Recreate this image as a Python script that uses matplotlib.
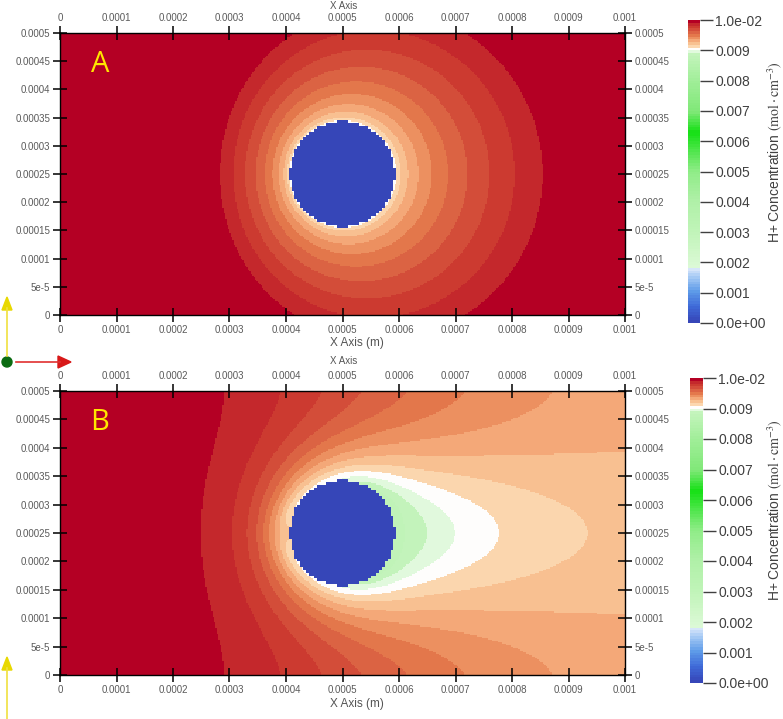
import numpy as np
import matplotlib
matplotlib.use('Agg')
import matplotlib.pyplot as plt
from matplotlib.colors import LinearSegmentedColormap
from matplotlib.patches import Polygon, Circle

plt.rcParams['font.family'] = ['Liberation Sans', 'DejaVu Sans']
plt.rcParams['mathtext.fontset'] = 'stix'

# domain and particle (m)
W, H = 0.001, 0.0005
xc, yc, R = 0.0005, 0.00025, 0.000093

x_ticks = [0, 0.0001, 0.0002, 0.0003, 0.0004, 0.0005, 0.0006, 0.0007, 0.0008, 0.0009, 0.001]
x_labels = ['0', '0.0001', '0.0002', '0.0003', '0.0004', '0.0005', '0.0006', '0.0007',
            '0.0008', '0.0009', '0.001']
y_ticks = [0, 5e-5, 0.0001, 0.00015, 0.0002, 0.00025, 0.0003, 0.00035, 0.0004, 0.00045, 0.0005]
y_labels = ['0', '5e-5', '0.0001', '0.00015', '0.0002', '0.00025', '0.0003', '0.00035',
            '0.0004', '0.00045', '0.0005']
cb_ticks = [0, 0.001, 0.002, 0.003, 0.004, 0.005, 0.006, 0.007, 0.008, 0.009, 0.01]
cb_labels = ['0.0e+00', '0.001', '0.002', '0.003', '0.004', '0.005', '0.006', '0.007',
             '0.008', '0.009', '1.0e-02']

# colour table (fraction of 0.01)
cmap_pos = [0.0, 0.05, 0.10, 0.15, 0.178, 0.182, 0.30, 0.40, 0.50, 0.63, 0.70, 0.80,
            0.89, 0.908, 0.917, 0.927, 0.936, 0.945, 0.954, 0.963, 0.972, 0.982, 0.991, 1.0]
cmap_col = ['#3646b8', '#3f6ad8', '#5d9ae8', '#a8cbf5', '#dde9fb', '#dcf9d6', '#c0f4b8',
            '#b0f0a8', '#90ec88', '#14e014', '#80e878', '#a0ee98', '#c4f4bc', '#ffffff',
            '#fcd8b0', '#f8c090', '#f4a878', '#ec9060', '#e4784c', '#dc6444', '#d44e3a',
            '#cc3a30', '#c4282c', '#b40024']
n_colors = 110
dc = 0.01 / n_colors

# panel A: rim depletion and reach
a_rim_A = 11.0 * dc
G_A = 0.000233
e_A = 0.357

# panel B: flow past the particle, depletion released along its surface
# (inverse length, downstream level, weight exponent along surface, image count)
src_s = [5000.0, 15000.0, 20000.0]
src_level = [5.2 * dc, 1.55 * dc, 1.4 * dc]
src_pow = [-0.5, 1.5, -1.0]
src_eps = [0.03, 0.03, 0.01]
src_img = [2, 1, 1]
n_src = 60

cmap = LinearSegmentedColormap.from_list('hplus', list(zip(cmap_pos, cmap_col)), N=n_colors)

nx, ny = 400, 200
x = (np.arange(nx) + 0.5) * W / nx
y = (np.arange(ny) + 0.5) * H / ny
X, Y = np.meshgrid(x, y)
dx = X - xc
dy = Y - yc
r = np.maximum(np.hypot(dx, dy), R)
cos = dx / r
gap = np.clip(np.hypot(dx, dy) - R, 0, None)

# coarse cells for the particle edge
cell = 5e-6
Xs = (np.floor(X / cell) + 0.5) * cell
Ys = (np.floor(Y / cell) + 0.5) * cell
inside = np.hypot(Xs - xc, Ys - yc) < R

# A
d_A = gap / (1 + e_A * cos)
cA = 0.01 - a_rim_A * np.clip(1 - np.sqrt(d_A / G_A), 0, None)


def k0e(z):
    # exp(z) * K0(z), polynomial fits
    out = np.empty_like(z)
    sm = z <= 2
    zs = z[sm]
    t2 = (zs / 2) ** 2
    u2 = (zs / 3.75) ** 2
    i0 = 1 + u2 * (3.5156229 + u2 * (3.0899424 + u2 * (1.2067492 + u2 * (0.2659732 + u2 * (0.0360768 + u2 * 0.0045813)))))
    k = -np.log(zs / 2) * i0 + (-0.57721566 + t2 * (0.42278420 + t2 * (0.23069756 + t2 * (0.03488590 + t2 * (0.00262698 + t2 * (0.00010750 + t2 * 0.0000074))))))
    out[sm] = k * np.exp(zs)
    zl = z[~sm]
    v = 2 / zl
    out[~sm] = (1.25331414 + v * (-0.07832358 + v * (0.02189568 + v * (-0.01062446 + v * (0.00587872 + v * (-0.00251540 + v * 0.00053208)))))) / np.sqrt(zl)
    return out


# potential-flow coordinates around the particle
phi = dx * (1 + R ** 2 / r ** 2)
psi = dy * (1 - R ** 2 / r ** 2)
phi_src = np.linspace(-2 * R, 2 * R, n_src)
xi = (phi_src + 2 * R) / (4 * R)
soft = 4 * R / n_src
depl = np.zeros_like(X)
for s, level, p, eps, n_img in zip(src_s, src_level, src_pow, src_eps, src_img):
    w = (xi + eps) ** p
    w = w / w.sum() * level * s * H / np.pi
    for pj, wj in zip(phi_src, w):
        dphi = phi - pj
        for k in range(-n_img, n_img + 1):
            z = s * np.sqrt(dphi ** 2 + (psi - k * H) ** 2 + soft ** 2)
            depl += wj * np.exp(s * dphi - z) * k0e(z)
cB = 0.01 - depl

fields = []
for c in (cA, cB):
    c = np.clip(c, 0, 0.01)
    c[inside] = 0.0
    fields.append(c)

fig = plt.figure(figsize=(7.83, 7.19), dpi=100)
ov = fig.add_axes([0, 0, 1, 1])
ov.set_xlim(0, 783)
ov.set_ylim(719, 0)
ov.axis('off')


def box(l, t, r_, b):
    return [l / 783, 1 - b / 719, (r_ - l) / 783, (b - t) / 719]


panels = [('A', fields[0], (60, 33, 625, 315), (688, 20, 700, 323), 6, 343, 152),
          ('B', fields[1], (60, 391, 625, 675), (690, 378, 703, 683), 361, 704, 510)]

for tag, c, pbox, cbox, ytop, ybot, ylab in panels:
    ax = fig.add_axes(box(*pbox))
    im = ax.imshow(c, extent=[0, W, 0, H], origin='lower', cmap=cmap, vmin=0, vmax=0.01,
                   interpolation='nearest', aspect='auto')
    ax.set_xlim(0, W)
    ax.set_ylim(0, H)
    ax.set_xticks(x_ticks)
    ax.set_xticklabels(x_labels)
    ax.set_yticks(y_ticks)
    ax.set_yticklabels(y_labels)
    ax.tick_params(direction='inout', length=10, width=1.1, color='black', labelsize=7,
                   labelcolor='#5a5a5a', top=True, right=True, labeltop=True,
                   labelright=True, pad=2)
    for sp in ax.spines.values():
        sp.set_linewidth(1.0)
    ax.text(0.0000705, 0.000445, tag, color='#ffe600', fontsize=21, family='Open Sans',
            ha='center', va='center')

    cax = fig.add_axes(box(*cbox))
    cb = fig.colorbar(im, cax=cax, ticks=cb_ticks)
    cb.set_ticklabels(cb_labels)
    cb.outline.set_visible(False)
    cax.tick_params(length=9, width=1, color='#404040', labelsize=10,
                    labelcolor='#404040', pad=2)
    ov.text(775, ylab, r'H+ Concentration $(\mathrm{mol \cdot cm^{-3}})$', rotation=90,
            ha='center', va='center', fontsize=10, color='#404040')

    ov.text(330, ytop, 'X Axis', ha='left', va='center', fontsize=7, color='#555555')
    ov.text(330, ybot, 'X Axis (m)', ha='left', va='center', fontsize=8.5, color='#555555')

# orientation glyphs
ov.plot([7, 7], [356, 308], color='#f0e040', lw=1.2)
ov.add_patch(Polygon([(2, 310), (12, 310), (7, 297)], closed=True, color='#e8d800'))
ov.add_patch(Circle((7, 362), 5, color='#0b6b12'))
ov.plot([16, 60], [362, 362], color='#e03030', lw=1.2)
ov.add_patch(Polygon([(58, 356), (58, 368), (71, 362)], closed=True, color='#d81818'))
ov.plot([7, 7], [719, 668], color='#f0e040', lw=1.2)
ov.add_patch(Polygon([(2, 670), (12, 670), (7, 657)], closed=True, color='#e8d800'))

plt.savefig('out.png', dpi=100)
